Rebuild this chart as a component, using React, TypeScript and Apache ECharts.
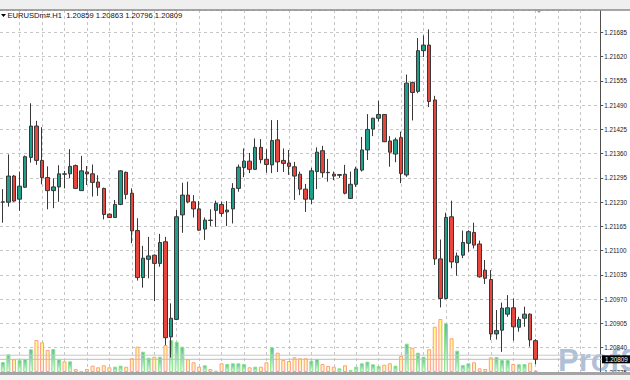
import React, { useEffect, useRef } from 'react';
import * as echarts from 'echarts';

const symbolName = 'EURUSDm#';
const timeframe = 'H1';
const slotCount = 107;
const priceMin = 1.20775;
const priceMax = 1.21745;
const priceStep = 0.00065;
const askPrice = 1.2082;

const openPrices = [
  1.21230, 1.21230, 1.21300, 1.21238, 1.21270, 1.21350, 1.21434, 1.21342, 1.21296, 1.21261,
  1.21271, 1.21306, 1.21306, 1.21328, 1.21261, 1.21311, 1.21306, 1.21284, 1.21267, 1.21198,
  1.21189, 1.21224, 1.21310, 1.21254, 1.21154, 1.21028, 1.21077, 1.21088, 1.21066, 1.21124,
  1.20869, 1.20916, 1.21196, 1.21249, 1.21231, 1.21212, 1.21158, 1.21182, 1.21208, 1.21224,
  1.21204, 1.21212, 1.21267, 1.21323, 1.21340, 1.21318, 1.21377, 1.21345, 1.21330, 1.21397,
  1.21342, 1.21335, 1.21325, 1.21305, 1.21265, 1.21238, 1.21312, 1.21368, 1.21310, 1.21305,
  1.21302, 1.21305, 1.21240, 1.21278, 1.21316, 1.21370, 1.21426, 1.21455, 1.21465, 1.21394,
  1.21359, 1.21403, 1.21303, 1.21551, 1.21527, 1.21636, 1.21651, 1.21504, 1.21078, 1.20972,
  1.21191, 1.21068, 1.21088, 1.21120, 1.21149, 1.21118, 1.21048, 1.21023, 1.20877, 1.20887,
  1.20930, 1.20947, 1.20895, 1.20919, 1.20930, 1.20859,
];

const highPrices = [
  1.21265, 1.21358, 1.21303, 1.21312, 1.21355, 1.21495, 1.21448, 1.21431, 1.21326, 1.21294,
  1.21329, 1.21314, 1.21372, 1.21331, 1.21354, 1.21327, 1.21331, 1.21302, 1.21269, 1.21200,
  1.21236, 1.21316, 1.21312, 1.21267, 1.21187, 1.21113, 1.21137, 1.21090, 1.21145, 1.21137,
  1.20959, 1.21209, 1.21282, 1.21285, 1.21249, 1.21233, 1.21189, 1.21211, 1.21234, 1.21232,
  1.21233, 1.21281, 1.21331, 1.21374, 1.21362, 1.21401, 1.21399, 1.21372, 1.21450, 1.21450,
  1.21374, 1.21370, 1.21338, 1.21312, 1.21279, 1.21322, 1.21377, 1.21381, 1.21346, 1.21312,
  1.21305, 1.21330, 1.21312, 1.21325, 1.21405, 1.21466, 1.21456, 1.21502, 1.21466, 1.21407,
  1.21403, 1.21419, 1.21572, 1.21553, 1.21670, 1.21677, 1.21693, 1.21515, 1.21130, 1.21202,
  1.21234, 1.21095, 1.21154, 1.21155, 1.21175, 1.21127, 1.21075, 1.21048, 1.20941, 1.20961,
  1.20981, 1.20972, 1.20923, 1.20950, 1.20932, 1.20863,
];

const lowPrices = [
  1.21175, 1.21218, 1.21231, 1.21207, 1.21268, 1.21336, 1.21330, 1.21278, 1.21211, 1.21214,
  1.21231, 1.21267, 1.21294, 1.21265, 1.21260, 1.21276, 1.21245, 1.21247, 1.21184, 1.21188,
  1.21188, 1.21222, 1.21238, 1.21120, 1.21020, 1.21001, 1.21026, 1.20965, 1.21057, 1.20847,
  1.20814, 1.20914, 1.21148, 1.21227, 1.21189, 1.21153, 1.21129, 1.21166, 1.21164, 1.21191,
  1.21166, 1.21173, 1.21258, 1.21297, 1.21308, 1.21316, 1.21334, 1.21309, 1.21308, 1.21311,
  1.21311, 1.21303, 1.21236, 1.21249, 1.21204, 1.21225, 1.21265, 1.21296, 1.21285, 1.21289,
  1.21295, 1.21251, 1.21239, 1.21271, 1.21312, 1.21343, 1.21407, 1.21446, 1.21391, 1.21325,
  1.21337, 1.21281, 1.21298, 1.21449, 1.21522, 1.21619, 1.21485, 1.21062, 1.20948, 1.20970,
  1.21053, 1.21033, 1.21080, 1.21097, 1.21106, 1.21028, 1.21011, 1.20861, 1.20862, 1.20829,
  1.20923, 1.20859, 1.20883, 1.20896, 1.20843, 1.20796,
];

const closePrices = [
  1.21231, 1.21300, 1.21233, 1.21273, 1.21352, 1.21434, 1.21342, 1.21296, 1.21261, 1.21271,
  1.21306, 1.21305, 1.21326, 1.21267, 1.21314, 1.21306, 1.21283, 1.21270, 1.21197, 1.21189,
  1.21224, 1.21314, 1.21251, 1.21153, 1.21028, 1.21080, 1.21086, 1.21066, 1.21122, 1.20867,
  1.20919, 1.21191, 1.21249, 1.21231, 1.21212, 1.21155, 1.21182, 1.21181, 1.21227, 1.21200,
  1.21209, 1.21267, 1.21324, 1.21340, 1.21318, 1.21377, 1.21344, 1.21331, 1.21395, 1.21338,
  1.21334, 1.21326, 1.21300, 1.21265, 1.21238, 1.21314, 1.21364, 1.21309, 1.21309, 1.21300,
  1.21304, 1.21254, 1.21278, 1.21319, 1.21370, 1.21425, 1.21455, 1.21465, 1.21392, 1.21364,
  1.21397, 1.21307, 1.21549, 1.21524, 1.21636, 1.21651, 1.21500, 1.21078, 1.20972, 1.21189,
  1.21070, 1.21086, 1.21122, 1.21151, 1.21115, 1.21030, 1.21026, 1.20877, 1.20886, 1.20946,
  1.20947, 1.20896, 1.20916, 1.20930, 1.20861, 1.20809,
];

const tickVolumes = [
  1000, 1770, 1270, 1200, 1300, 2270, 3200, 2970, 2200, 2300,
  1270, 1070, 1070, 300, 80, 300, 630, 470, 670, 470,
  530, 630, 530, 1370, 2530, 2030, 1430, 1530, 1530, 2700,
  3200, 3030, 2530, 1270, 970, 530, 670, 300, 130, 870,
  800, 870, 870, 800, 470, 530, 530, 970, 2470, 1930,
  1200, 1100, 1470, 1370, 1370, 1130, 1300, 800, 600, 530,
  370, 670, 200, 530, 870, 1030, 770, 600, 730, 870,
  630, 1600, 2830, 2430, 1930, 1530, 2270, 4530, 5300, 4870,
  3370, 2130, 700, 870, 970, 370, 300, 1470, 1500, 1200,
  1200, 800, 770, 800, 930, 150,
];

const FONT = 'Liberation Sans';

export default function App() {
  const ref = useRef<HTMLDivElement>(null);

  useEffect(() => {
    document.body.style.margin = '0';
    document.body.style.background = '#ffffff';
    const chart = echarts.init(ref.current as HTMLDivElement, null, { renderer: 'svg' });

    const categories = Array.from({ length: slotCount }, (_, i) => String(i + 1));
    const candleData = openPrices.map((o, i) => [o, closePrices[i], lowPrices[i], highPrices[i]]);

    const upVolStyle = {
      color: new echarts.graphic.LinearGradient(0, 0, 0, 1, [
        { offset: 0, color: '#62b2a0' },
        { offset: 1, color: '#eafcea' },
      ]),
      borderColor: '#86e886',
      borderWidth: 1,
    };
    const downVolStyle = {
      color: new echarts.graphic.LinearGradient(0, 0, 0, 1, [
        { offset: 0, color: '#ffff6e' },
        { offset: 1, color: '#fff0ec' },
      ]),
      borderColor: '#ff9c8a',
      borderWidth: 1,
    };
    const volData = tickVolumes.map((v, i) => ({
      value: v,
      itemStyle: closePrices[i] >= openPrices[i] ? upVolStyle : downVolStyle,
    }));

    const last = openPrices.length - 1;
    const fmt = (v: number) => v.toFixed(5);
    const header = `${symbolName}.${timeframe}  ${fmt(openPrices[last])} ${fmt(highPrices[last])} ${fmt(lowPrices[last])} ${fmt(closePrices[last])}`;

    chart.setOption({
      animation: false,
      backgroundColor: '#ffffff',
      grid: { left: 0, top: 10, width: 602, height: 362, containLabel: false },
      xAxis: {
        type: 'category',
        data: categories,
        boundaryGap: true,
        axisLine: { show: false },
        axisTick: { show: false, alignWithLabel: true },
        axisLabel: { show: false },
        splitLine: {
          show: true,
          alignWithLabel: true,
          interval: (i: number) => i % 4 === 3,
          lineStyle: { color: '#c6c6c6', type: [3, 3], width: 1 },
        },
      },
      yAxis: [
        {
          type: 'value',
          position: 'right',
          min: priceMin,
          max: priceMax,
          interval: priceStep,
          axisLine: { show: true, lineStyle: { color: '#505050', width: 1 } },
          axisTick: { show: true, length: 3, lineStyle: { color: '#505050' } },
          axisLabel: {
            margin: 4,
            fontSize: 6.3,
            color: '#1a1a1a',
            fontFamily: FONT,
            showMaxLabel: false,
            hideOverlap: false,
            formatter: (v: number) => v.toFixed(5),
          },
          splitLine: { show: true, lineStyle: { color: '#c6c6c6', type: [3, 3], width: 1 } },
        },
        { type: 'value', min: 0, max: 36200, show: false, splitLine: { show: false } },
      ],
      series: [
        {
          type: 'bar',
          yAxisIndex: 1,
          data: volData,
          barWidth: 4,
          silent: true,
          z: 1,
        },
        {
          type: 'candlestick',
          data: candleData,
          barWidth: 4,
          silent: true,
          z: 3,
          itemStyle: {
            color: '#1f9e8a',
            color0: '#e8463c',
            borderColor: '#383838',
            borderColor0: '#383838',
            borderWidth: 1,
          },
        },
      ],
      graphic: [
        { id: 'topband', type: 'rect', shape: { x: 0, y: 0, width: 630, height: 10 }, style: { fill: '#efefef' }, z: 50 },
        { id: 'topline', type: 'line', shape: { x1: 0, y1: 10, x2: 630, y2: 10 }, style: { stroke: '#8a8a8a', lineWidth: 1.5 }, z: 51 },
        { id: 'botband', type: 'rect', shape: { x: 0, y: 372, width: 630, height: 3 }, style: { fill: '#a4a4a4' }, z: 50 },
        { id: 'botfill', type: 'rect', shape: { x: 0, y: 375, width: 630, height: 5 }, style: { fill: '#f4f4f4' }, z: 50 },
        { id: 'hdrtri', type: 'polygon', shape: { points: [[1, 14], [6, 14], [3.5, 17]] }, style: { fill: '#000000' }, z: 52 },
        {
          id: 'header',
          type: 'text',
          x: 7.5,
          y: 15.5,
          style: { text: header, fontSize: 7.6, fontFamily: FONT, fill: '#111111', verticalAlign: 'middle' },
          z: 52,
        },
        { id: 'shift', type: 'polygon', shape: { points: [[536, 10], [542, 10], [539, 13]] }, style: { fill: '#a0a0a0' }, z: 52 },
        {
          id: 'wm',
          type: 'text',
          x: 558,
          y: 345,
          style: {
            text: 'ProfS',
            fontSize: 31,
            fontWeight: 'bold',
            fontFamily: FONT,
            fill: 'rgba(95,130,180,0.5)',
          },
          z: 1,
        },
      ],
    });

    const yBid = chart.convertToPixel({ yAxisIndex: 0 }, closePrices[last]) as number;
    const yAsk = chart.convertToPixel({ yAxisIndex: 0 }, askPrice) as number;

    chart.setOption({
      graphic: [
        { id: 'askline', type: 'line', shape: { x1: 0, y1: yAsk, x2: 602, y2: yAsk }, style: { stroke: '#c8c8c8', lineWidth: 1 }, z: 2 },
        { id: 'bidline', type: 'line', shape: { x1: 0, y1: yBid, x2: 602, y2: yBid }, style: { stroke: '#bdbdbd', lineWidth: 1 }, z: 2 },
        { id: 'bidbox', type: 'rect', shape: { x: 602, y: yBid - 4, width: 28, height: 8 }, style: { fill: '#000000' }, z: 60 },
        {
          id: 'bidtext',
          type: 'text',
          x: 605,
          y: yBid,
          style: { text: fmt(closePrices[last]), fontSize: 6.3, fontFamily: FONT, fill: '#ffffff', verticalAlign: 'middle' },
          z: 61,
        },
      ],
    });

    return () => chart.dispose();
  }, []);

  return <div ref={ref} style={{ position: 'absolute', left: 0, top: 0, width: 630, height: 380 }} />;
}
